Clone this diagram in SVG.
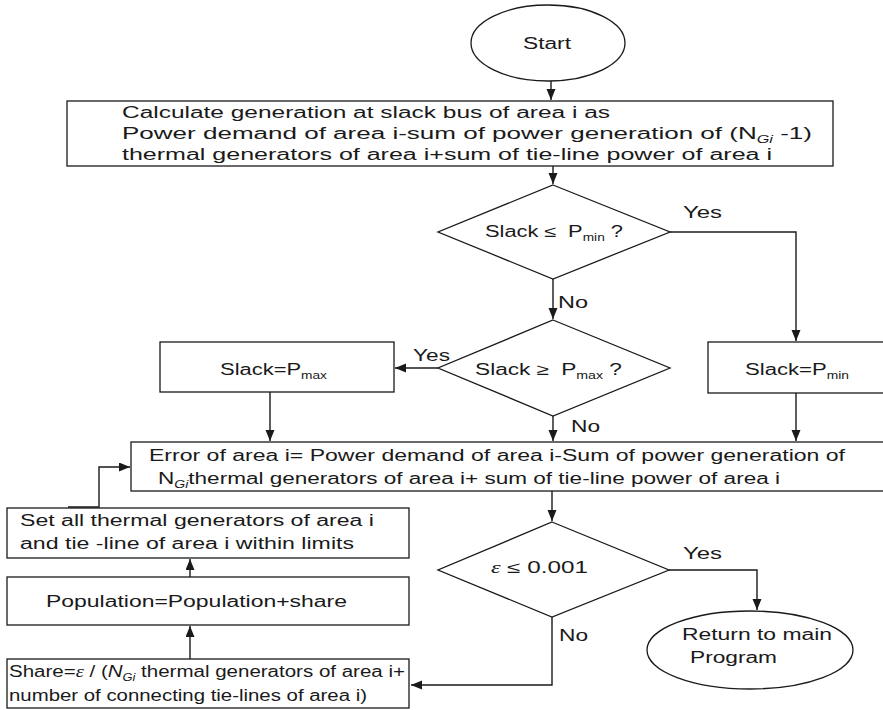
<svg xmlns="http://www.w3.org/2000/svg" width="883" height="710" viewBox="0 0 883 710">
<defs>
<style>
.s{fill:#fff;stroke:#1a1a1a;stroke-width:1.3}
.c{fill:none;stroke:#1a1a1a;stroke-width:1.4}
.t{font-family:"Liberation Sans",Arial,sans-serif;font-size:16px;fill:#1a1a1a}
.sub{font-size:10px}
.it{font-style:italic}
.ep{font-family:"Liberation Serif","Times New Roman",serif;font-style:italic}
</style>
<marker id="ah" markerUnits="userSpaceOnUse" markerWidth="12" markerHeight="10" refX="11" refY="4.5" orient="auto">
<path d="M0,0 L11,4.5 L0,9 z" fill="#1a1a1a"/>
</marker>
</defs>
<rect width="883" height="710" fill="#fff"/>

<g id="connectors">
<path class="c" d="M551 81 V100" marker-end="url(#ah)"/>
<path class="c" d="M553 166 V184" marker-end="url(#ah)"/>
<path class="c" d="M670 232 H796 V341" marker-end="url(#ah)"/>
<path class="c" d="M553 279 V319" marker-end="url(#ah)"/>
<path class="c" d="M438 368 H395" marker-end="url(#ah)"/>
<path class="c" d="M270 392 V441" marker-end="url(#ah)"/>
<path class="c" d="M553 416 V441" marker-end="url(#ah)"/>
<path class="c" d="M796 393 V441" marker-end="url(#ah)"/>
<path class="c" d="M552 491 V521" marker-end="url(#ah)"/>
<path class="c" d="M669 570 H757 V610" marker-end="url(#ah)"/>
<path class="c" d="M552 617 V685 H411" marker-end="url(#ah)"/>
<path class="c" d="M190 659 V626" marker-end="url(#ah)"/>
<path class="c" d="M190 577 V559" marker-end="url(#ah)"/>
<path class="c" d="M68 507 H99 V467 H130" marker-end="url(#ah)"/>
</g>

<g id="start">
<ellipse class="s" cx="548" cy="43" rx="77" ry="38"/>
<text class="t" x="523" y="49" textLength="48" lengthAdjust="spacingAndGlyphs">Start</text>
</g>

<g id="calc">
<rect class="s" x="67" y="101" width="766" height="65"/>
<text class="t" x="122" y="118" textLength="488" lengthAdjust="spacingAndGlyphs">Calculate generation at slack bus of area i as</text>
<text class="t" x="122" y="139" textLength="690" lengthAdjust="spacingAndGlyphs">Power demand of area i-sum of power generation of (N<tspan class="sub it" dy="4">Gi</tspan><tspan dy="-4"> -1)</tspan></text>
<text class="t" x="122" y="160" textLength="650" lengthAdjust="spacingAndGlyphs">thermal generators of area i+sum of tie-line power of area i</text>
</g>

<g id="dec1">
<polygon class="s" points="553,185 670,232 553,279 438,232"/>
<text class="t" x="485" y="237" textLength="138" lengthAdjust="spacingAndGlyphs">Slack ≤ <tspan dx="4">P</tspan><tspan class="sub" dy="4">min</tspan><tspan dy="-4"> ?</tspan></text>
</g>
<text class="t" x="683" y="218" textLength="39" lengthAdjust="spacingAndGlyphs">Yes</text>
<text class="t" x="558" y="308" textLength="30" lengthAdjust="spacingAndGlyphs">No</text>

<g id="dec2">
<polygon class="s" points="553,320 670,368 553,416 438,368"/>
<text class="t" x="475" y="375" textLength="147" lengthAdjust="spacingAndGlyphs">Slack ≥ <tspan dx="4">P</tspan><tspan class="sub" dy="4">max</tspan><tspan dy="-4"> ?</tspan></text>
</g>
<text class="t" x="413" y="361" textLength="37" lengthAdjust="spacingAndGlyphs">Yes</text>
<text class="t" x="571" y="432" textLength="29" lengthAdjust="spacingAndGlyphs">No</text>

<g id="pmax">
<rect class="s" x="160" y="342" width="234" height="50"/>
<text class="t" x="220" y="375" textLength="107" lengthAdjust="spacingAndGlyphs">Slack=P<tspan class="sub" dy="4">max</tspan></text>
</g>

<g id="pmin">
<rect class="s" x="708" y="342" width="190" height="51"/>
<text class="t" x="745" y="375" textLength="104" lengthAdjust="spacingAndGlyphs">Slack=P<tspan class="sub" dy="4">min</tspan></text>
</g>

<g id="error">
<rect class="s" x="131" y="442" width="770" height="49"/>
<text class="t" x="149" y="461" textLength="696" lengthAdjust="spacingAndGlyphs">Error of area i= Power demand of area i-Sum of power generation of</text>
<text class="t" x="158" y="484" textLength="622" lengthAdjust="spacingAndGlyphs">N<tspan class="sub it" dy="4">Gi</tspan><tspan dy="-4">thermal generators of area i+ sum of tie-line power of area i</tspan></text>
</g>

<g id="dec3">
<polygon class="s" points="552,522 669,570 552,617 438,570"/>
<text class="t" x="491" y="573" textLength="97" lengthAdjust="spacingAndGlyphs"><tspan class="ep">ε</tspan> ≤ 0.001</text>
</g>
<text class="t" x="683" y="559" textLength="39" lengthAdjust="spacingAndGlyphs">Yes</text>
<text class="t" x="559" y="641" textLength="29" lengthAdjust="spacingAndGlyphs">No</text>

<g id="return">
<ellipse class="s" cx="750" cy="650" rx="103" ry="39"/>
<text class="t" x="682" y="640" textLength="150" lengthAdjust="spacingAndGlyphs">Return to main</text>
<text class="t" x="690" y="663" textLength="87" lengthAdjust="spacingAndGlyphs">Program</text>
</g>

<g id="setall">
<rect class="s" x="7" y="508" width="402" height="50"/>
<text class="t" x="20" y="526" textLength="354" lengthAdjust="spacingAndGlyphs">Set all thermal generators of area i</text>
<text class="t" x="20" y="549" textLength="334" lengthAdjust="spacingAndGlyphs">and tie -line of area i within limits</text>
</g>

<g id="population">
<rect class="s" x="7" y="577" width="402" height="48"/>
<text class="t" x="46" y="607" textLength="301" lengthAdjust="spacingAndGlyphs">Population=Population+share</text>
</g>

<g id="share">
<rect class="s" x="7" y="659" width="402" height="49"/>
<text class="t" x="9" y="677" textLength="396" lengthAdjust="spacingAndGlyphs">Share=<tspan class="ep">ε</tspan> / (<tspan class="it">N</tspan><tspan class="sub it" dy="4">Gi</tspan><tspan dy="-4">  thermal generators of area i+</tspan></text>
<text class="t" x="9" y="701" textLength="358" lengthAdjust="spacingAndGlyphs">number of connecting tie-lines of area i)</text>
</g>
</svg>
